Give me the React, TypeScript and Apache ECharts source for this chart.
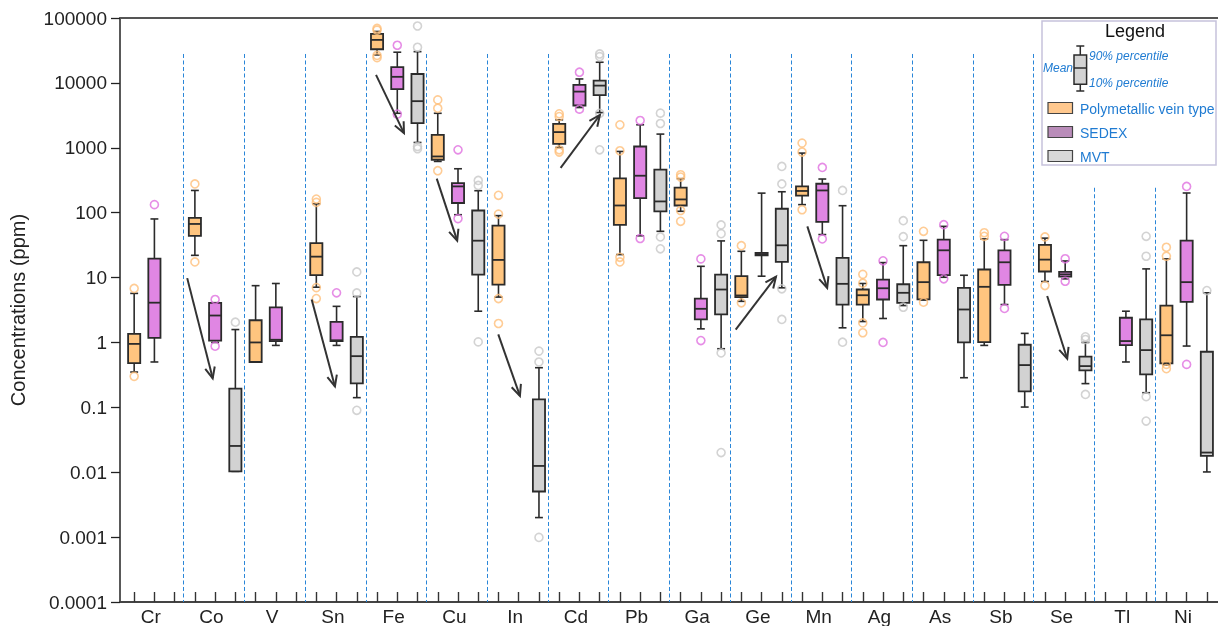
import React, { useEffect, useRef } from "react";
import * as echarts from "echarts";

// ---------- data ----------
const elements = ["Cr", "Co", "V", "Sn", "Fe", "Cu", "In", "Cd", "Pb", "Ga", "Ge", "Mn", "Ag", "As", "Sb", "Se", "Tl", "Ni"];
const yTickLabels = ["0.0001", "0.001", "0.01", "0.1", "1", "10", "100", "1000", "10000", "100000"];
const legendNames = ["Polymetallic vein type", "SEDEX", "MVT"];

// [element, min(10%), Q1, median, Q3, max(90%)]
const veinBoxes: [string, number, number, number, number, number][] = [
  ["Cr", 0.35, 0.48, 0.95, 1.36, 5.7],
  ["Co", 22, 44, 67, 83, 220],
  ["V", 0.5, 0.5, 1.0, 2.2, 7.5],
  ["Sn", 7.1, 10.9, 21, 34, 137],
  ["Fe", 27000, 33000, 46000, 57000, 62000],
  ["Cu", 616, 654, 735, 1585, 3400],
  ["In", 5.0, 7.8, 18.7, 63, 90],
  ["Cd", 1010, 1150, 1745, 2340, 2700],
  ["Pb", 22.6, 65, 129, 337, 877],
  ["Ga", 105, 129, 160, 243, 334],
  ["Ge", 4.3, 5.0, 5.3, 10.5, 25.4],
  ["Mn", 133, 183, 216, 254, 828],
  ["Ag", 2.1, 3.84, 5.34, 6.54, 8.1],
  ["As", 4.5, 4.6, 8.5, 17.2, 37.5],
  ["Sb", 0.9, 1.01, 7.2, 13.3, 39.4],
  ["Se", 8.7, 12.4, 18.9, 31.8, 40.5],
  ["Ni", 0.45, 0.475, 1.29, 3.7, 19.4],
];
const sedexBoxes: [string, number, number, number, number, number][] = [
  ["Cr", 0.5, 1.18, 4.1, 19.6, 80],
  ["Co", 1.0, 1.07, 2.6, 4.08, 4.1],
  ["V", 0.9, 1.05, 1.1, 3.46, 8.1],
  ["Sn", 0.9, 1.05, 1.08, 2.08, 3.6],
  ["Fe", 3400, 8000, 12400, 17500, 29700],
  ["Cu", 93, 141, 254, 286, 475],
  ["Cd", 4170, 4480, 7340, 9310, 11500],
  ["Pb", 44, 168, 371, 1047, 2260],
  ["Ga", 1.62, 2.26, 3.3, 4.75, 14.9],
  ["Ge", 10.5, 22, 23, 24, 200],
  ["Mn", 46, 72, 220, 279, 330],
  ["Ag", 2.34, 4.59, 6.84, 9.31, 17],
  ["As", 10.1, 10.9, 26.3, 38.4, 61.5],
  ["Sb", 3.84, 7.72, 17.2, 26.3, 38.4],
  ["Se", 9.55, 10.3, 11.2, 12.2, 18],
  ["Tl", 0.5, 0.91, 1.05, 2.4, 3.03],
  ["Ni", 0.88, 4.23, 8.5, 37, 201],
];
const mvtBoxes: [string, number, number, number, number, number][] = [
  ["Co", 0.0103, 0.0103, 0.0254, 0.194, 1.58],
  ["Sn", 0.141, 0.234, 0.615, 1.22, 5.1],
  ["Fe", 1207, 2400, 5230, 13700, 30300],
  ["Cu", 3.03, 11.1, 37, 108, 218],
  ["In", 0.002, 0.00505, 0.0125, 0.133, 0.408],
  ["Cd", 3490, 6470, 9080, 10800, 20800],
  ["Pb", 51.6, 105, 149, 459, 1625],
  ["Ga", 0.8, 2.7, 6.54, 11.1, 36.7],
  ["Ge", 6.95, 17.4, 31.4, 115, 210],
  ["Mn", 1.68, 3.84, 8.0, 20.1, 128],
  ["Ag", 3.7, 4.08, 5.82, 7.89, 31],
  ["As", 0.286, 1.0, 3.22, 6.95, 10.85],
  ["Sb", 0.101, 0.176, 0.448, 0.922, 1.38],
  ["Se", 0.232, 0.371, 0.432, 0.603, 1.0],
  ["Tl", 0.168, 0.322, 0.762, 2.26, 13.6],
  ["Ni", 0.0101, 0.0178, 0.0201, 0.719, 5.82],
];

// [element, value]
const veinOutliers: [string, number][] = [
  ["Cr", 6.8], ["Cr", 0.3], ["Co", 277], ["Co", 17.4],
  ["Sn", 162], ["Sn", 144], ["Sn", 7.0], ["Sn", 4.75],
  ["Fe", 69000], ["Fe", 65000], ["Fe", 26500], ["Fe", 24500],
  ["Cu", 5470], ["Cu", 4080], ["Cu", 443],
  ["In", 185], ["In", 95], ["In", 4.75], ["In", 1.96],
  ["Cd", 3335], ["Cd", 3030], ["Cd", 931], ["Cd", 859],
  ["Pb", 2260], ["Pb", 900], ["Pb", 20.5], ["Pb", 17.4],
  ["Ga", 384], ["Ga", 354], ["Ga", 108], ["Ga", 73.5],
  ["Ge", 31], ["Ge", 4.08],
  ["Mn", 1180], ["Mn", 860], ["Mn", 111],
  ["Ag", 11.2], ["Ag", 8.2], ["Ag", 2.0], ["Ag", 1.41],
  ["As", 51.6], ["As", 4.17], ["Sb", 49], ["Sb", 43.2],
  ["Se", 42.3], ["Se", 7.53],
  ["Ni", 29.3], ["Ni", 21.3], ["Ni", 0.459], ["Ni", 0.394],
];
const sedexOutliers: [string, number][] = [
  ["Cr", 133], ["Co", 4.59], ["Co", 0.877], ["Sn", 5.82],
  ["Fe", 38000], ["Fe", 3300], ["Cu", 931], ["Cu", 81],
  ["Cd", 14600], ["Cd", 3940], ["Pb", 2630], ["Pb", 40],
  ["Ga", 19.4], ["Ga", 1.07], ["Mn", 498], ["Mn", 39.4],
  ["Ag", 18.1], ["Ag", 1.0], ["As", 65.3], ["As", 9.55],
  ["Sb", 43.2], ["Sb", 3.34], ["Se", 19.5], ["Se", 8.77],
  ["Ni", 254], ["Ni", 0.459],
];
const mvtOutliers: [string, number][] = [
  ["Co", 2.05], ["Sn", 12.2], ["Sn", 5.8], ["Sn", 0.09],
  ["Fe", 75300], ["Fe", 35400], ["Fe", 1047], ["Fe", 966],
  ["Cu", 314], ["Cu", 263], ["Cu", 1.02],
  ["In", 0.735], ["In", 0.5], ["In", 0.00099],
  ["Cd", 27900], ["Cd", 25400], ["Cd", 3400], ["Cd", 931],
  ["Pb", 3420], ["Pb", 2365], ["Pb", 42.3], ["Pb", 27.7],
  ["Ga", 64.7], ["Ga", 47.5], ["Ga", 0.69], ["Ga", 0.0201],
  ["Ge", 516], ["Ge", 277], ["Ge", 6.7], ["Ge", 2.26],
  ["Mn", 220], ["Mn", 1.01],
  ["Ag", 75.3], ["Ag", 42.7], ["Ag", 3.49],
  ["Se", 1.22], ["Se", 1.11], ["Se", 0.158],
  ["Tl", 43.2], ["Tl", 21.3], ["Tl", 0.146], ["Tl", 0.0615],
  ["Ni", 6.3],
];

// arrows: [x from (slot units), value from, x to, value to]
const arrows: [number, number, number, number][] = [
  [2.62, 9.8, 3.88, 0.28],
  [8.77, 4.6, 9.92, 0.21],
  [11.95, 13300, 13.33, 1680],
  [14.95, 334, 15.96, 37],
  [17.99, 1.33, 19.06, 0.15],
  [21.07, 490, 23.01, 3200],
  [29.72, 1.58, 31.71, 10.3],
  [33.26, 61.5, 34.24, 6.9],
  [45.11, 5.2, 46.1, 0.56],
];

// ---------- helpers ----------
const FONT = "'Liberation Sans', Arial, Helvetica, sans-serif";
const BLUE = "#1f7bd2";
const Y_MIN = 0.0001;
const Y_MAX = 100000;
const X_MIN = -0.7;
const X_MAX = 53.55;
const SEP_OFFSET = 2.43;
const SEP_TOP = 27900;
const SEP_TOP_UNDER_LEGEND = 242;

const slotOf = (el: string, kind: number) => elements.indexOf(el) * 3 + kind;

const boxData = (rows: [string, number, number, number, number, number][], kind: number) =>
  rows.map(([el, a, b, c, d, e]) => [slotOf(el, kind), a, b, c, d, e]);
const outlierData = (rows: [string, number][], kind: number) =>
  rows.map(([el, v]) => [slotOf(el, kind), v]);

const renderBox = (fill: string) => (params: any, api: any) => {
  const x = api.value(0);
  const pMin = api.coord([x, api.value(1)]);
  const pQ1 = api.coord([x, api.value(2)]);
  const pMed = api.coord([x, api.value(3)]);
  const pQ3 = api.coord([x, api.value(4)]);
  const pMax = api.coord([x, api.value(5)]);
  const half = (api.coord([x + 0.3, 1])[0] - api.coord([x - 0.3, 1])[0]) / 2;
  const cap = half * 0.65;
  const cx = pMed[0];
  const st = { stroke: "#2b2b2b", lineWidth: 1.6 };
  return {
    type: "group",
    children: [
      { type: "line", shape: { x1: cx, y1: pQ3[1], x2: cx, y2: pMax[1] }, style: st },
      { type: "line", shape: { x1: cx, y1: pQ1[1], x2: cx, y2: pMin[1] }, style: st },
      { type: "line", shape: { x1: cx - cap, y1: pMax[1], x2: cx + cap, y2: pMax[1] }, style: st },
      { type: "line", shape: { x1: cx - cap, y1: pMin[1], x2: cx + cap, y2: pMin[1] }, style: st },
      {
        type: "rect",
        shape: { x: cx - half, y: pQ3[1], width: 2 * half, height: Math.max(pQ1[1] - pQ3[1], 0.5) },
        style: { fill, stroke: "#2b2b2b", lineWidth: 1.8 },
      },
      { type: "line", shape: { x1: cx - half, y1: pMed[1], x2: cx + half, y2: pMed[1] }, style: { stroke: "#2b2b2b", lineWidth: 1.8 } },
    ],
  };
};

const renderArrow = (params: any, api: any) => {
  const p1 = api.coord([api.value(0), api.value(1)]);
  const p2 = api.coord([api.value(2), api.value(3)]);
  const ang = Math.atan2(p2[1] - p1[1], p2[0] - p1[0]);
  const L = 12;
  const a = 0.42;
  const h1 = [p2[0] - L * Math.cos(ang - a), p2[1] - L * Math.sin(ang - a)];
  const h2 = [p2[0] - L * Math.cos(ang + a), p2[1] - L * Math.sin(ang + a)];
  return {
    type: "group",
    children: [
      { type: "line", shape: { x1: p1[0], y1: p1[1], x2: p2[0], y2: p2[1] }, style: { stroke: "#333", lineWidth: 2 } },
      { type: "polyline", shape: { points: [h1, p2, h2] }, style: { stroke: "#333", lineWidth: 2, fill: null } },
    ],
  };
};

const renderSeparator = (params: any, api: any) => {
  const x = api.value(0);
  const pTop = api.coord([x, api.value(1)]);
  const pBot = api.coord([x, Y_MIN]);
  const sx = Math.round(pTop[0]) + 0.5;
  return {
    type: "line",
    shape: { x1: sx, y1: pTop[1], x2: sx, y2: pBot[1] },
    style: { stroke: "#2a86d8", lineWidth: 1, lineDash: [4, 2.5] },
  };
};

const separatorData = elements.slice(0, elements.length - 1).map((_, k) => [
  3 * k + SEP_OFFSET,
  k >= elements.length - 3 ? SEP_TOP_UNDER_LEGEND : SEP_TOP,
]);

const slotTicks = elements.flatMap((_, k) => [3 * k, 3 * k + 1, 3 * k + 2]);
const labelPositions = elements.map((_, k) => 3 * k + 0.82);

const outlierSeries = (name: string, data: number[][], color: string) => ({
  name,
  type: "scatter",
  data,
  symbol: "circle",
  symbolSize: 8,
  z: 5,
  silent: true,
  itemStyle: { color: "rgba(255,255,255,0)", borderColor: color, borderWidth: 1.6 },
});

const boxSeries = (name: string, data: number[][], fill: string) => ({
  name,
  type: "custom",
  data,
  z: 3,
  silent: true,
  encode: { x: 0, y: [1, 2, 3, 4, 5] },
  renderItem: renderBox(fill),
});

// ---------- legend graphics (decoration) ----------
const legendGraphic = [
  {
    type: "group",
    children: [
      { type: "rect", shape: { x: 1042, y: 21, width: 174, height: 144 }, style: { fill: "#fff", stroke: "#c6c2dc", lineWidth: 1.5 } },
      { type: "text", x: 1135, y: 31, style: { text: "Legend", font: `18px ${FONT}`, fill: "#111", align: "center", verticalAlign: "middle" } },
      { type: "line", shape: { x1: 1080.3, y1: 46, x2: 1080.3, y2: 91 }, style: { stroke: "#2b2b2b", lineWidth: 1.5 } },
      { type: "line", shape: { x1: 1076.3, y1: 46, x2: 1084.3, y2: 46 }, style: { stroke: "#2b2b2b", lineWidth: 1.5 } },
      { type: "line", shape: { x1: 1076.3, y1: 91, x2: 1084.3, y2: 91 }, style: { stroke: "#2b2b2b", lineWidth: 1.5 } },
      { type: "rect", shape: { x: 1074, y: 55, width: 12.6, height: 29.3 }, style: { fill: "#d3d3d3", stroke: "#2b2b2b", lineWidth: 1.5 } },
      { type: "line", shape: { x1: 1074, y1: 68, x2: 1086.6, y2: 68 }, style: { stroke: "#2b2b2b", lineWidth: 1.5 } },
      { type: "text", x: 1073, y: 67.5, style: { text: "Mean", font: `italic 12px ${FONT}`, fill: BLUE, align: "right", verticalAlign: "middle" } },
      { type: "text", x: 1089, y: 56, style: { text: "90% percentile", font: `italic 12px ${FONT}`, fill: BLUE, align: "left", verticalAlign: "middle" } },
      { type: "text", x: 1089, y: 83, style: { text: "10% percentile", font: `italic 12px ${FONT}`, fill: BLUE, align: "left", verticalAlign: "middle" } },
      { type: "rect", shape: { x: 1048, y: 102.5, width: 24.5, height: 11 }, style: { fill: "#ffc88e", stroke: "#444", lineWidth: 1.2 } },
      { type: "rect", shape: { x: 1048, y: 126.5, width: 24.5, height: 11 }, style: { fill: "#b98cb9", stroke: "#444", lineWidth: 1.2 } },
      { type: "rect", shape: { x: 1048, y: 150.5, width: 24.5, height: 11 }, style: { fill: "#d8d8d8", stroke: "#444", lineWidth: 1.2 } },
      { type: "text", x: 1080, y: 108.5, style: { text: legendNames[0], font: `14px ${FONT}`, fill: BLUE, align: "left", verticalAlign: "middle" } },
      { type: "text", x: 1080, y: 132.5, style: { text: legendNames[1], font: `14px ${FONT}`, fill: BLUE, align: "left", verticalAlign: "middle" } },
      { type: "text", x: 1080, y: 156.5, style: { text: legendNames[2], font: `14px ${FONT}`, fill: BLUE, align: "left", verticalAlign: "middle" } },
    ],
  },
];

export default function App() {
  const ref = useRef<HTMLDivElement>(null);

  useEffect(() => {
    if (!ref.current) return;
    const chart = echarts.init(ref.current, undefined, { renderer: "svg" });
    const option: any = {
      animation: false,
      textStyle: { fontFamily: FONT },
      grid: { left: 120, right: 0, top: 18, bottom: 23, containLabel: false },
      xAxis: [
        {
          type: "value",
          position: "bottom",
          min: X_MIN,
          max: X_MAX,
          axisLine: { show: true, onZero: false, lineStyle: { color: "#444", width: 2 } },
          axisTick: { show: true, inside: true, length: 10, customValues: slotTicks, lineStyle: { color: "#333", width: 1.4 } },
          axisLabel: {
            show: true,
            customValues: labelPositions,
            margin: 5,
            fontSize: 19,
            color: "#222",
            fontFamily: FONT,
            formatter: (v: number) => elements[Math.round((v - 0.82) / 3)] ?? "",
          },
          splitLine: { show: false },
        },
        {
          type: "value",
          position: "top",
          min: X_MIN,
          max: X_MAX,
          axisLine: { show: true, onZero: false, lineStyle: { color: "#555", width: 2 } },
          axisTick: { show: false },
          axisLabel: { show: false },
          splitLine: { show: false },
        },
      ],
      yAxis: {
        type: "log",
        logBase: 10,
        min: Y_MIN,
        max: Y_MAX,
        splitNumber: 9,
        name: "Concentrations (ppm)",
        nameLocation: "middle",
        nameGap: 92,
        nameTextStyle: { fontSize: 20, color: "#222", fontFamily: FONT },
        axisLine: { show: true, onZero: false, lineStyle: { color: "#222", width: 1.5 } },
        axisTick: { show: true, inside: false, length: 9, lineStyle: { color: "#222", width: 1.3 } },
        minorTick: { show: false },
        axisLabel: {
          margin: 13,
          fontSize: 19,
          color: "#222",
          fontFamily: FONT,
          formatter: (v: number) => yTickLabels[Math.round(Math.log10(v)) + 4] ?? "",
        },
        splitLine: { show: false },
      },
      graphic: legendGraphic,
      series: [
        {
          name: "separators",
          type: "custom",
          data: separatorData,
          z: 1,
          silent: true,
          encode: { x: 0, y: 1 },
          renderItem: renderSeparator,
        },
        boxSeries(legendNames[0], boxData(veinBoxes, 0), "#ffc57f"),
        boxSeries(legendNames[1], boxData(sedexBoxes, 1), "#e086e3"),
        boxSeries(legendNames[2], boxData(mvtBoxes, 2), "#d2d2d2"),
        outlierSeries("vein outliers", outlierData(veinOutliers, 0), "#ffbf7a"),
        outlierSeries("SEDEX outliers", outlierData(sedexOutliers, 1), "#e070e0"),
        outlierSeries("MVT outliers", outlierData(mvtOutliers, 2), "#c8c8c8"),
        {
          name: "arrows",
          type: "custom",
          data: arrows,
          z: 6,
          silent: true,
          encode: { x: [0, 2], y: [1, 3] },
          renderItem: renderArrow,
        },
      ],
    };
    chart.setOption(option);
    return () => chart.dispose();
  }, []);

  return <div ref={ref} style={{ position: "fixed", left: 0, top: 0, width: 1218, height: 626 }} />;
}
